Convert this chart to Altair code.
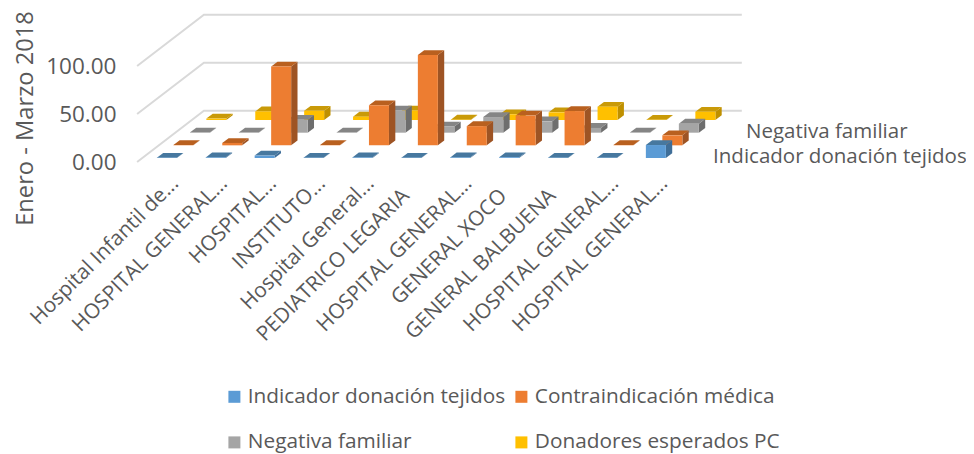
import json
import altair as alt
import pandas as pd

categories = ["Hospital Infantil de...", "HOSPITAL GENERAL...", "HOSPITAL...", "INSTITUTO...",
              "Hospital General...", "PEDIATRICO LEGARIA", "HOSPITAL GENERAL...", "GENERAL XOCO",
              "GENERAL BALBUENA", "HOSPITAL GENERAL...", "HOSPITAL GENERAL..."]
series = ["Indicador donación tejidos", "Contraindicación médica", "Negativa familiar", "Donadores esperados PC"]
indicador = [0.3, 0.6, 2.5, 0.3, 0.6, 0.3, 0.6, 0.8, 0.3, 0.3, 13.5]
contra = [0.3, 2.5, 82, 0.3, 41.7, 94, 20, 31, 35.7, 0.3, 10.4]
negativa = [0.2, 0.2, 13.5, 0.2, 23, 6.5, 16.3, 11.8, 5, 0.2, 9.4]
donadores = [1.5, 9, 9.7, 3.5, 10, 0.4, 6, 8, 13.9, 0.3, 8.7]
values = [indicador, contra, negativa, donadores]
front_colors = ["#5B9BD5", "#ED7D31", "#A5A5A5", "#FFC000"]
top_colors = ["#47789F", "#B9601F", "#858585", "#C99A08"]
side_colors = ["#3F6E98", "#9E5424", "#6E6E6E", "#BF9000"]
grid_levels = [0, 50, 100]
y_ticks = [0, 50, 100]

# Oblique projection, in data units of the two scales
ROW_DU = 0.3374   # category units per depth row
ROW_DV = 13.18    # value units per depth row
BASE_V = 4.17
BAR_L, BAR_R = 0.296, 0.705
DEPTH_DU, DEPTH_DV = 0.13, 5.0
FONT = "Open Sans"
TXT = "#595959"

# labels that were not shortened sit a little further from the axis in the reference
shortened = [i for i, c in enumerate(categories) if c.endswith("...")]
full = [i for i, c in enumerate(categories) if not c.endswith("...")]
names_js = json.dumps(categories, ensure_ascii=False)
x_axis = alt.Axis(values=[i + 0.5 for i in shortened],
                  labelExpr=f"{names_js}[floor(datum.value)]",
                  labelAngle=-45, labelAlign="right", labelBaseline="middle",
                  labelFont=FONT, labelFontSize=20.8, labelColor=TXT, labelLimit=400,
                  labelOverlap=False, labelPadding=8, labelOffset=8, labelBound=False, labelFlush=False,
                  ticks=False, domain=False, grid=False, title=None)
y_axis = alt.Axis(values=y_ticks, format=".2f", labelFont=FONT, labelFontSize=22.5, labelColor=TXT,
                  labelPadding=8, labelOffset=1, ticks=False, domain=False, grid=False,
                  title="Enero - Marzo 2018", titleFont=FONT, titleFontSize=23.7, titleFontWeight="normal",
                  titleColor=TXT, titleX=-99, titleY=110, titleAngle=-90, titleAlign="center", titleBaseline="middle")

xs = alt.Scale(domain=[-0.376, 16.843], nice=False, zero=False)
ys = alt.Scale(domain=[-10.42, 160.4], nice=False, zero=False)
X = lambda f: alt.X(f, type="quantitative", scale=xs, axis=x_axis)
Y = lambda f: alt.Y(f, type="quantitative", scale=ys, axis=y_axis)

front, side, top = [], [], []
for s, row in enumerate(values):
    for i, v in enumerate(row):
        x0 = i + BAR_L + s * ROW_DU
        x1 = i + BAR_R + s * ROW_DU
        y0 = BASE_V + s * ROW_DV
        y1 = y0 + v
        key = f"{s}-{i}"
        front.append(dict(k=key, s=s, serie=series[s], x0=x0, x1=x1, y0=y0, y1=y1))
        side.append(dict(k=key, s=s, x=x1, y=y0, y2=y1))
        side.append(dict(k=key, s=s, x=x1 + DEPTH_DU, y=y0 + DEPTH_DV, y2=y1 + DEPTH_DV))
        top.append(dict(k=key, s=s, y=y1, x=x0, x2=x1))
        top.append(dict(k=key, s=s, y=y1 + DEPTH_DV, x=x0 + DEPTH_DU, x2=x1 + DEPTH_DU))
front, side, top = pd.DataFrame(front), pd.DataFrame(side), pd.DataFrame(top)

S0, S1 = -0.32, 3.73
grid = []
for lv in grid_levels:
    grid.append(dict(l=lv, o=0, x=S0 * ROW_DU, y=lv + BASE_V + S0 * ROW_DV))
    grid.append(dict(l=lv, o=1, x=S1 * ROW_DU, y=lv + BASE_V + S1 * ROW_DV))
    grid.append(dict(l=lv, o=2, x=S1 * ROW_DU + len(categories), y=lv + BASE_V + S1 * ROW_DV))
grid = pd.DataFrame(grid)

layers = [
    alt.Chart(grid).mark_line(color="#D9D9D9", strokeWidth=2).encode(
        x=X("x"), y=Y("y"), detail="l:N", order="o:Q")
]

legend = alt.Legend(orient="none", legendX=100, legendY=378, columns=2, title=None,
                    symbolType="square", symbolSize=144, symbolStrokeWidth=0,
                    labelFont=FONT, labelFontSize=20.8, labelColor=TXT, labelLimit=400, labelOffset=3,
                    columnPadding=5, rowPadding=24)
# the legend fills its grid column by column
legend_order = [series[0], series[2], series[1], series[3]]
legend_colors = [front_colors[0], front_colors[2], front_colors[1], front_colors[3]]
color = alt.Color("serie:N", scale=alt.Scale(domain=legend_order, range=legend_colors), legend=legend)

for s in [3, 2, 1, 0]:
    layers.append(alt.Chart(side[side.s == s]).mark_area(color=side_colors[s], orient="vertical").encode(
        x=X("x"), y=Y("y"), y2="y2:Q", detail="k:N"))
    layers.append(alt.Chart(top[top.s == s]).mark_area(color=top_colors[s], orient="horizontal").encode(
        y=Y("y"), x=X("x"), x2="x2:Q", detail="k:N"))
    layers.append(alt.Chart(front[front.s == s]).mark_rect().encode(
        x=X("x0"), x2="x1:Q", y=Y("y0"), y2="y1:Q", color=color))

depth_labels = pd.DataFrame([
    dict(t=series[s], x=11.67 + s * ROW_DU, y=5.2 + s * ROW_DV) for s in [0, 2]
])
layers.append(alt.Chart(depth_labels).mark_text(
    align="left", baseline="middle", font=FONT, fontSize=20.5, color=TXT).encode(
    x=X("x"), y=Y("y"), text="t:N"))

full_labels = pd.DataFrame([dict(t=categories[i], x=i + 0.39, y=-32.0) for i in full])
layers.append(alt.Chart(full_labels).mark_text(
    align="right", baseline="middle", angle=315, font=FONT, fontSize=20.8, color=TXT).encode(
    x=X("x"), y=Y("y"), text="t:N"))

chart = alt.layer(*layers).resolve_scale(x="shared", y="shared", color="shared").properties(
    width=842, height=164,
    autosize=alt.AutoSizeParams(type="none"),
    padding={"left": 116, "top": 0, "right": 0, "bottom": 282},
).configure_view(stroke=None)

chart.save("out.html", embed_options={"renderer": "svg", "actions": False})
